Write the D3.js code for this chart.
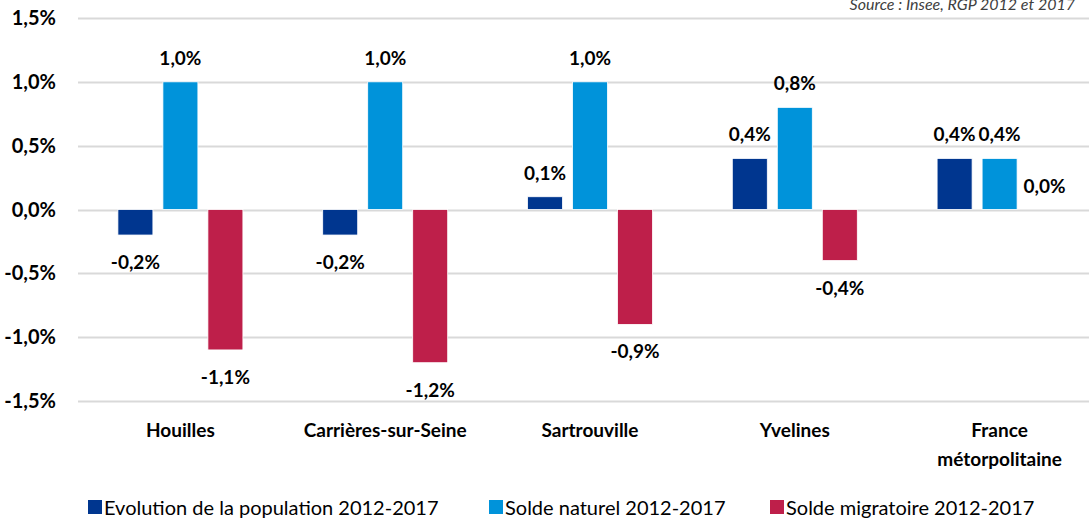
<!DOCTYPE html>
<html>
<head>
<meta charset="utf-8">
<script src="https://cdn.jsdelivr.net/npm/d3@7"></script>
<style>
  body { margin: 0; background: #fff; }
  svg { display: block; font-family: Lato, 'Open Sans', sans-serif; }
</style>
</head>
<body>
<svg id="chart" width="1089" height="519"></svg>
<script>
const categories = ['Houilles', 'Carrières-sur-Seine', 'Sartrouville', 'Yvelines', 'France métorpolitaine'];
const series = ['Evolution de la population 2012-2017', 'Solde naturel 2012-2017', 'Solde migratoire 2012-2017'];
const evolution = [-0.2, -0.2, 0.1, 0.4, 0.4];
const soldeNaturel = [1.0, 1.0, 1.0, 0.8, 0.4];
const soldeMigratoire = [-1.1, -1.2, -0.9, -0.4, 0.0];
const yTicks = [-1.5, -1.0, -0.5, 0.0, 0.5, 1.0, 1.5];
const colours = ['#00368F', '#0093DA', '#BE1F4A'];
const source = 'Source : Insee, RGP 2012 et 2017';

const values = [evolution, soldeNaturel, soldeMigratoire];
const data = categories.map((c, i) => ({
  name: c,
  vals: series.map((s, j) => ({ series: s, idx: j, value: values[j][i] }))
}));

const svg = d3.select('#chart');
const W = 1089;

const x = d3.scaleBand().domain(categories).range([78, 1102]).padding(0);
const x1 = d3.scaleBand().domain(series).range([0, 125]).paddingInner(10 / 45).paddingOuter(0);
const y = d3.scaleLinear().domain([-1.5, 1.5]).range([401, 18]);
// French format with plain hyphen for negatives
const fmt = v => (v < 0 ? '-' : '') + Math.abs(v).toFixed(1).replace('.', ',') + '%';

// gridlines
svg.append('g')
  .selectAll('line')
  .data(yTicks)
  .enter().append('line')
  .attr('x1', 78).attr('x2', W)
  .attr('y1', d => Math.round(y(d)) + 0.5).attr('y2', d => Math.round(y(d)) + 0.5)
  .style('stroke', '#D9D9D9')
  .style('stroke-width', 2);

// y tick labels
svg.append('g')
  .selectAll('text')
  .data(yTicks)
  .enter().append('text')
  .attr('x', 56)
  .attr('y', d => y(d) + 7)
  .attr('text-anchor', 'end')
  .style('font-weight', 'bold')
  .style('font-size', '20px')
  .style('fill', '#000')
  .text(fmt);

// bars
const groups = svg.append('g')
  .selectAll('.cat')
  .data(data)
  .enter().append('g')
  .attr('class', 'cat')
  .attr('transform', d => 'translate(' + (x(d.name) + x.bandwidth() / 2 - 62.5) + ',0)');

groups.selectAll('rect')
  .data(d => d.vals)
  .enter().append('rect')
  .attr('x', d => x1(d.series))
  .attr('width', x1.bandwidth())
  .attr('y', d => y(Math.max(0, d.value)))
  .attr('height', d => Math.abs(y(d.value) - y(0)))
  .style('fill', d => colours[d.idx])
  .style('stroke', '#fff')
  .style('stroke-width', 0.8);

// value labels
groups.selectAll('.lbl')
  .data(d => d.vals)
  .enter().append('text')
  .attr('class', 'lbl')
  .attr('x', d => x1(d.series) + x1.bandwidth() / 2)
  .attr('y', d => d.value >= 0 ? y(d.value) - 17 : y(d.value) + 34)
  .attr('text-anchor', 'middle')
  .style('font-weight', 'bold')
  .style('font-size', '19px')
  .style('fill', '#000')
  .text(d => fmt(d.value));

// category labels
svg.append('g')
  .selectAll('text')
  .data(categories)
  .enter().append('text')
  .attr('x', d => x(d) + x.bandwidth() / 2)
  .attr('y', 437)
  .attr('text-anchor', 'middle')
  .style('font-weight', 'bold')
  .style('font-size', '19px')
  .style('fill', '#000')
  .each(function(d) {
    const words = d === 'France métorpolitaine' ? ['France', 'métorpolitaine'] : [d];
    words.forEach((w, i) => {
      d3.select(this).append('tspan')
        .attr('x', x(d) + x.bandwidth() / 2)
        .attr('dy', i === 0 ? 0 : 29)
        .text(w);
    });
  });

// source
svg.append('text')
  .attr('x', 1075)
  .attr('y', 10)
  .attr('text-anchor', 'end')
  .style('font-style', 'italic')
  .style('font-size', '16px')
  .style('fill', '#404040')
  .text(source);

// legend
const legendX = [88, 489, 770];
const legend = svg.append('g')
  .selectAll('.leg')
  .data(series)
  .enter().append('g')
  .attr('class', 'leg')
  .attr('transform', (d, i) => 'translate(' + legendX[i] + ',500)');

legend.append('rect')
  .attr('width', 14).attr('height', 14)
  .style('fill', (d, i) => colours[i]);

legend.append('text')
  .attr('x', 16)
  .attr('y', 15)
  .style('font-size', '20px')
  .style('fill', '#000')
  .text(d => d);
</script>
</body>
</html>
